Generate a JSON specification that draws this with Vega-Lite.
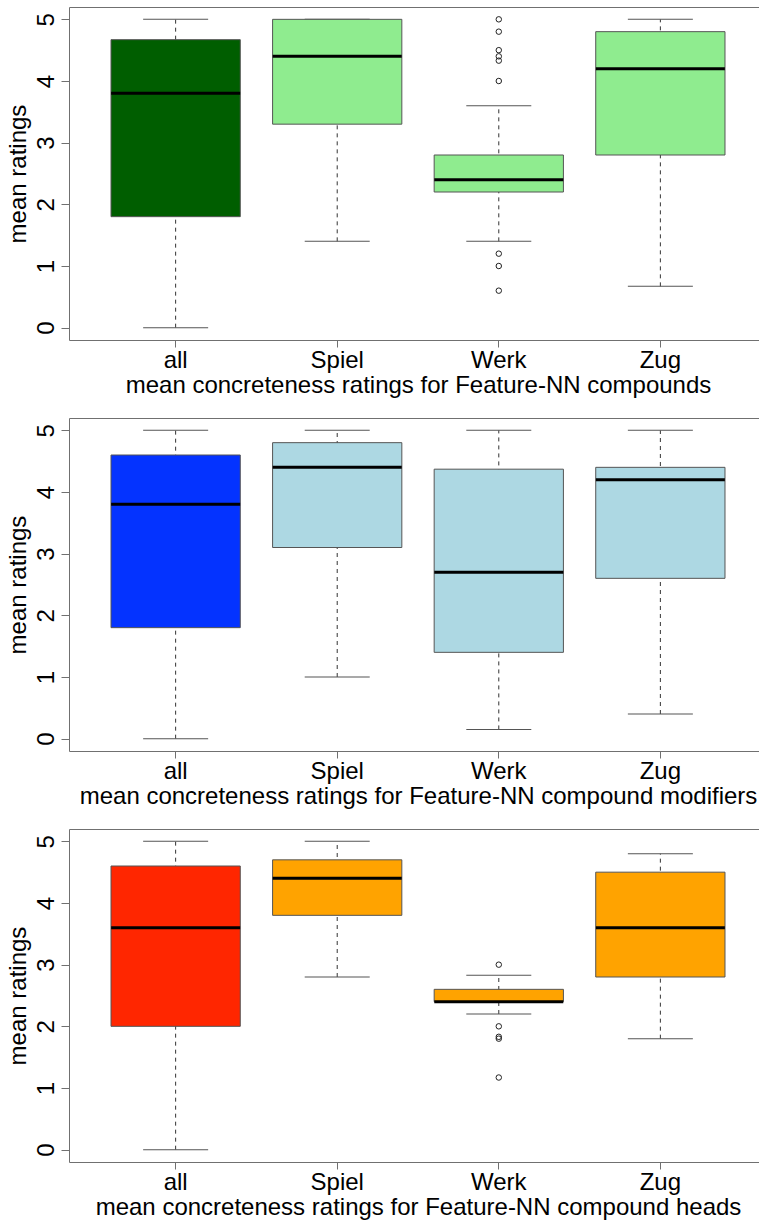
{
  "$schema": "https://vega.github.io/schema/vega-lite/v6.json",
  "padding": {"left": 5, "top": 6, "right": 0, "bottom": 0},
  "background": "white",
  "spacing": 78,
  "bounds": "flush",
  "datasets": {
    "boxes": [
      {"panel": "compounds", "group": "all", "lo": 0, "q1": 1.8, "med": 3.8, "q3": 4.67, "hi": 5},
      {"panel": "compounds", "group": "Spiel", "lo": 1.4, "q1": 3.3, "med": 4.4, "q3": 5, "hi": 5},
      {"panel": "compounds", "group": "Werk", "lo": 1.4, "q1": 2.2, "med": 2.4, "q3": 2.8, "hi": 3.6},
      {"panel": "compounds", "group": "Zug", "lo": 0.67, "q1": 2.8, "med": 4.2, "q3": 4.8, "hi": 5},
      {"panel": "modifiers", "group": "all", "lo": 0, "q1": 1.8, "med": 3.8, "q3": 4.6, "hi": 5},
      {"panel": "modifiers", "group": "Spiel", "lo": 1, "q1": 3.1, "med": 4.4, "q3": 4.8, "hi": 5},
      {"panel": "modifiers", "group": "Werk", "lo": 0.15, "q1": 1.4, "med": 2.7, "q3": 4.37, "hi": 5},
      {"panel": "modifiers", "group": "Zug", "lo": 0.4, "q1": 2.6, "med": 4.2, "q3": 4.4, "hi": 5},
      {"panel": "heads", "group": "all", "lo": 0, "q1": 2, "med": 3.6, "q3": 4.6, "hi": 5},
      {"panel": "heads", "group": "Spiel", "lo": 2.8, "q1": 3.8, "med": 4.4, "q3": 4.7, "hi": 5},
      {"panel": "heads", "group": "Werk", "lo": 2.2, "q1": 2.4, "med": 2.4, "q3": 2.6, "hi": 2.83},
      {"panel": "heads", "group": "Zug", "lo": 1.8, "q1": 2.8, "med": 3.6, "q3": 4.5, "hi": 4.8}
    ],
    "outliers": [
      {"panel": "compounds", "group": "Werk", "value": 5.0},
      {"panel": "compounds", "group": "Werk", "value": 4.8},
      {"panel": "compounds", "group": "Werk", "value": 4.5},
      {"panel": "compounds", "group": "Werk", "value": 4.4},
      {"panel": "compounds", "group": "Werk", "value": 4.33},
      {"panel": "compounds", "group": "Werk", "value": 4.0},
      {"panel": "compounds", "group": "Werk", "value": 1.2},
      {"panel": "compounds", "group": "Werk", "value": 1.0},
      {"panel": "compounds", "group": "Werk", "value": 0.6},
      {"panel": "heads", "group": "Werk", "value": 3.0},
      {"panel": "heads", "group": "Werk", "value": 2.0},
      {"panel": "heads", "group": "Werk", "value": 1.83},
      {"panel": "heads", "group": "Werk", "value": 1.8},
      {"panel": "heads", "group": "Werk", "value": 1.17}
    ]
  },
  "resolve": {"scale": {"color": "independent"}},
  "vconcat": [
    {
      "width": 698, "height": 333,
      "encoding": {
        "x": {"field": "group", "type": "nominal", "scale": {"type": "band", "domain": ["all", "Spiel", "Werk", "Zug"], "paddingInner": 0.2, "paddingOuter": 0.26}, "title": "mean concreteness ratings for Feature-NN compounds"}
      },
      "layer": [
        {"data": {"name": "boxes"}, "transform": [{"filter": "datum.panel === 'compounds'"}], "mark": {"type": "rule", "strokeDash": [4, 4], "color": "#333", "strokeWidth": 1},
         "encoding": {"y": {"field": "lo", "type": "quantitative", "title": "mean ratings", "scale": {"domain": [-0.2, 5.2], "nice": false, "zero": false}, "axis": {"values": [0, 1, 2, 3, 4, 5], "format": "d"}}, "y2": {"field": "hi"}}},
        {"data": {"name": "boxes"}, "transform": [{"filter": "datum.panel === 'compounds'"}], "mark": {"type": "tick", "orient": "horizontal", "size": 65, "thickness": 1, "color": "#555", "opacity": 1},
         "encoding": {"y": {"field": "lo", "type": "quantitative", "title": "mean ratings"}}},
        {"data": {"name": "boxes"}, "transform": [{"filter": "datum.panel === 'compounds'"}], "mark": {"type": "tick", "orient": "horizontal", "size": 65, "thickness": 1, "color": "#555", "opacity": 1},
         "encoding": {"y": {"field": "hi", "type": "quantitative", "title": "mean ratings"}}},
        {"data": {"name": "boxes"}, "transform": [{"filter": "datum.panel === 'compounds'"}], "mark": {"type": "bar", "stroke": "#555", "strokeWidth": 1, "opacity": 1},
         "encoding": {"y": {"field": "q1", "type": "quantitative", "title": "mean ratings"}, "y2": {"field": "q3"},
           "color": {"field": "group", "type": "nominal", "legend": null, "scale": {"domain": ["all", "Spiel", "Werk", "Zug"], "range": ["#005E00", "#8FEC8F", "#8FEC8F", "#8FEC8F"]}}}},
        {"data": {"name": "boxes"}, "transform": [{"filter": "datum.panel === 'compounds'"}], "mark": {"type": "tick", "orient": "horizontal", "size": 129, "thickness": 3, "color": "black", "opacity": 1},
         "encoding": {"y": {"field": "med", "type": "quantitative", "title": "mean ratings"}}},
        {"data": {"name": "outliers"}, "transform": [{"filter": "datum.panel === 'compounds'"}], "mark": {"type": "point", "shape": "circle", "filled": false, "size": 30, "color": "#222", "strokeWidth": 1, "opacity": 1},
         "encoding": {"y": {"field": "value", "type": "quantitative", "title": "mean ratings"}}}
      ]
    },
    {
      "width": 698, "height": 333,
      "encoding": {
        "x": {"field": "group", "type": "nominal", "scale": {"type": "band", "domain": ["all", "Spiel", "Werk", "Zug"], "paddingInner": 0.2, "paddingOuter": 0.26}, "title": "mean concreteness ratings for Feature-NN compound modifiers"}
      },
      "layer": [
        {"data": {"name": "boxes"}, "transform": [{"filter": "datum.panel === 'modifiers'"}], "mark": {"type": "rule", "strokeDash": [4, 4], "color": "#333", "strokeWidth": 1},
         "encoding": {"y": {"field": "lo", "type": "quantitative", "title": "mean ratings", "scale": {"domain": [-0.2, 5.2], "nice": false, "zero": false}, "axis": {"values": [0, 1, 2, 3, 4, 5], "format": "d"}}, "y2": {"field": "hi"}}},
        {"data": {"name": "boxes"}, "transform": [{"filter": "datum.panel === 'modifiers'"}], "mark": {"type": "tick", "orient": "horizontal", "size": 65, "thickness": 1, "color": "#555", "opacity": 1},
         "encoding": {"y": {"field": "lo", "type": "quantitative", "title": "mean ratings"}}},
        {"data": {"name": "boxes"}, "transform": [{"filter": "datum.panel === 'modifiers'"}], "mark": {"type": "tick", "orient": "horizontal", "size": 65, "thickness": 1, "color": "#555", "opacity": 1},
         "encoding": {"y": {"field": "hi", "type": "quantitative", "title": "mean ratings"}}},
        {"data": {"name": "boxes"}, "transform": [{"filter": "datum.panel === 'modifiers'"}], "mark": {"type": "bar", "stroke": "#555", "strokeWidth": 1, "opacity": 1},
         "encoding": {"y": {"field": "q1", "type": "quantitative", "title": "mean ratings"}, "y2": {"field": "q3"},
           "color": {"field": "group", "type": "nominal", "legend": null, "scale": {"domain": ["all", "Spiel", "Werk", "Zug"], "range": ["#0433FF", "#ADD8E3", "#ADD8E3", "#ADD8E3"]}}}},
        {"data": {"name": "boxes"}, "transform": [{"filter": "datum.panel === 'modifiers'"}], "mark": {"type": "tick", "orient": "horizontal", "size": 129, "thickness": 3, "color": "black", "opacity": 1},
         "encoding": {"y": {"field": "med", "type": "quantitative", "title": "mean ratings"}}}
      ]
    },
    {
      "width": 698, "height": 333,
      "encoding": {
        "x": {"field": "group", "type": "nominal", "scale": {"type": "band", "domain": ["all", "Spiel", "Werk", "Zug"], "paddingInner": 0.2, "paddingOuter": 0.26}, "title": "mean concreteness ratings for Feature-NN compound heads"}
      },
      "layer": [
        {"data": {"name": "boxes"}, "transform": [{"filter": "datum.panel === 'heads'"}], "mark": {"type": "rule", "strokeDash": [4, 4], "color": "#333", "strokeWidth": 1},
         "encoding": {"y": {"field": "lo", "type": "quantitative", "title": "mean ratings", "scale": {"domain": [-0.2, 5.2], "nice": false, "zero": false}, "axis": {"values": [0, 1, 2, 3, 4, 5], "format": "d"}}, "y2": {"field": "hi"}}},
        {"data": {"name": "boxes"}, "transform": [{"filter": "datum.panel === 'heads'"}], "mark": {"type": "tick", "orient": "horizontal", "size": 65, "thickness": 1, "color": "#555", "opacity": 1},
         "encoding": {"y": {"field": "lo", "type": "quantitative", "title": "mean ratings"}}},
        {"data": {"name": "boxes"}, "transform": [{"filter": "datum.panel === 'heads'"}], "mark": {"type": "tick", "orient": "horizontal", "size": 65, "thickness": 1, "color": "#555", "opacity": 1},
         "encoding": {"y": {"field": "hi", "type": "quantitative", "title": "mean ratings"}}},
        {"data": {"name": "boxes"}, "transform": [{"filter": "datum.panel === 'heads'"}], "mark": {"type": "bar", "stroke": "#555", "strokeWidth": 1, "opacity": 1},
         "encoding": {"y": {"field": "q1", "type": "quantitative", "title": "mean ratings"}, "y2": {"field": "q3"},
           "color": {"field": "group", "type": "nominal", "legend": null, "scale": {"domain": ["all", "Spiel", "Werk", "Zug"], "range": ["#FF2600", "#FFA300", "#FFA300", "#FFA300"]}}}},
        {"data": {"name": "boxes"}, "transform": [{"filter": "datum.panel === 'heads'"}], "mark": {"type": "tick", "orient": "horizontal", "size": 129, "thickness": 3, "color": "black", "opacity": 1},
         "encoding": {"y": {"field": "med", "type": "quantitative", "title": "mean ratings"}}},
        {"data": {"name": "outliers"}, "transform": [{"filter": "datum.panel === 'heads'"}], "mark": {"type": "point", "shape": "circle", "filled": false, "size": 30, "color": "#222", "strokeWidth": 1, "opacity": 1},
         "encoding": {"y": {"field": "value", "type": "quantitative", "title": "mean ratings"}}}
      ]
    }
  ],
  "config": {
    "view": {"stroke": "#707070", "strokeWidth": 1},
    "font": "Liberation Sans",
    "axis": {"labelFont": "Liberation Sans", "titleFont": "Liberation Sans", "labelFontSize": 24, "titleFontSize": 24, "titleFontWeight": "normal", "labelColor": "black", "titleColor": "black", "tickColor": "#707070", "grid": false, "domain": false},
    "axisY": {"tickSize": 8, "labelAngle": -90, "labelAlign": "center", "labelBaseline": "bottom", "labelPadding": 3, "titlePadding": 4},
    "axisX": {"tickSize": 7, "labelAngle": 0, "labelPadding": 1, "titlePadding": 1}
  }
}
